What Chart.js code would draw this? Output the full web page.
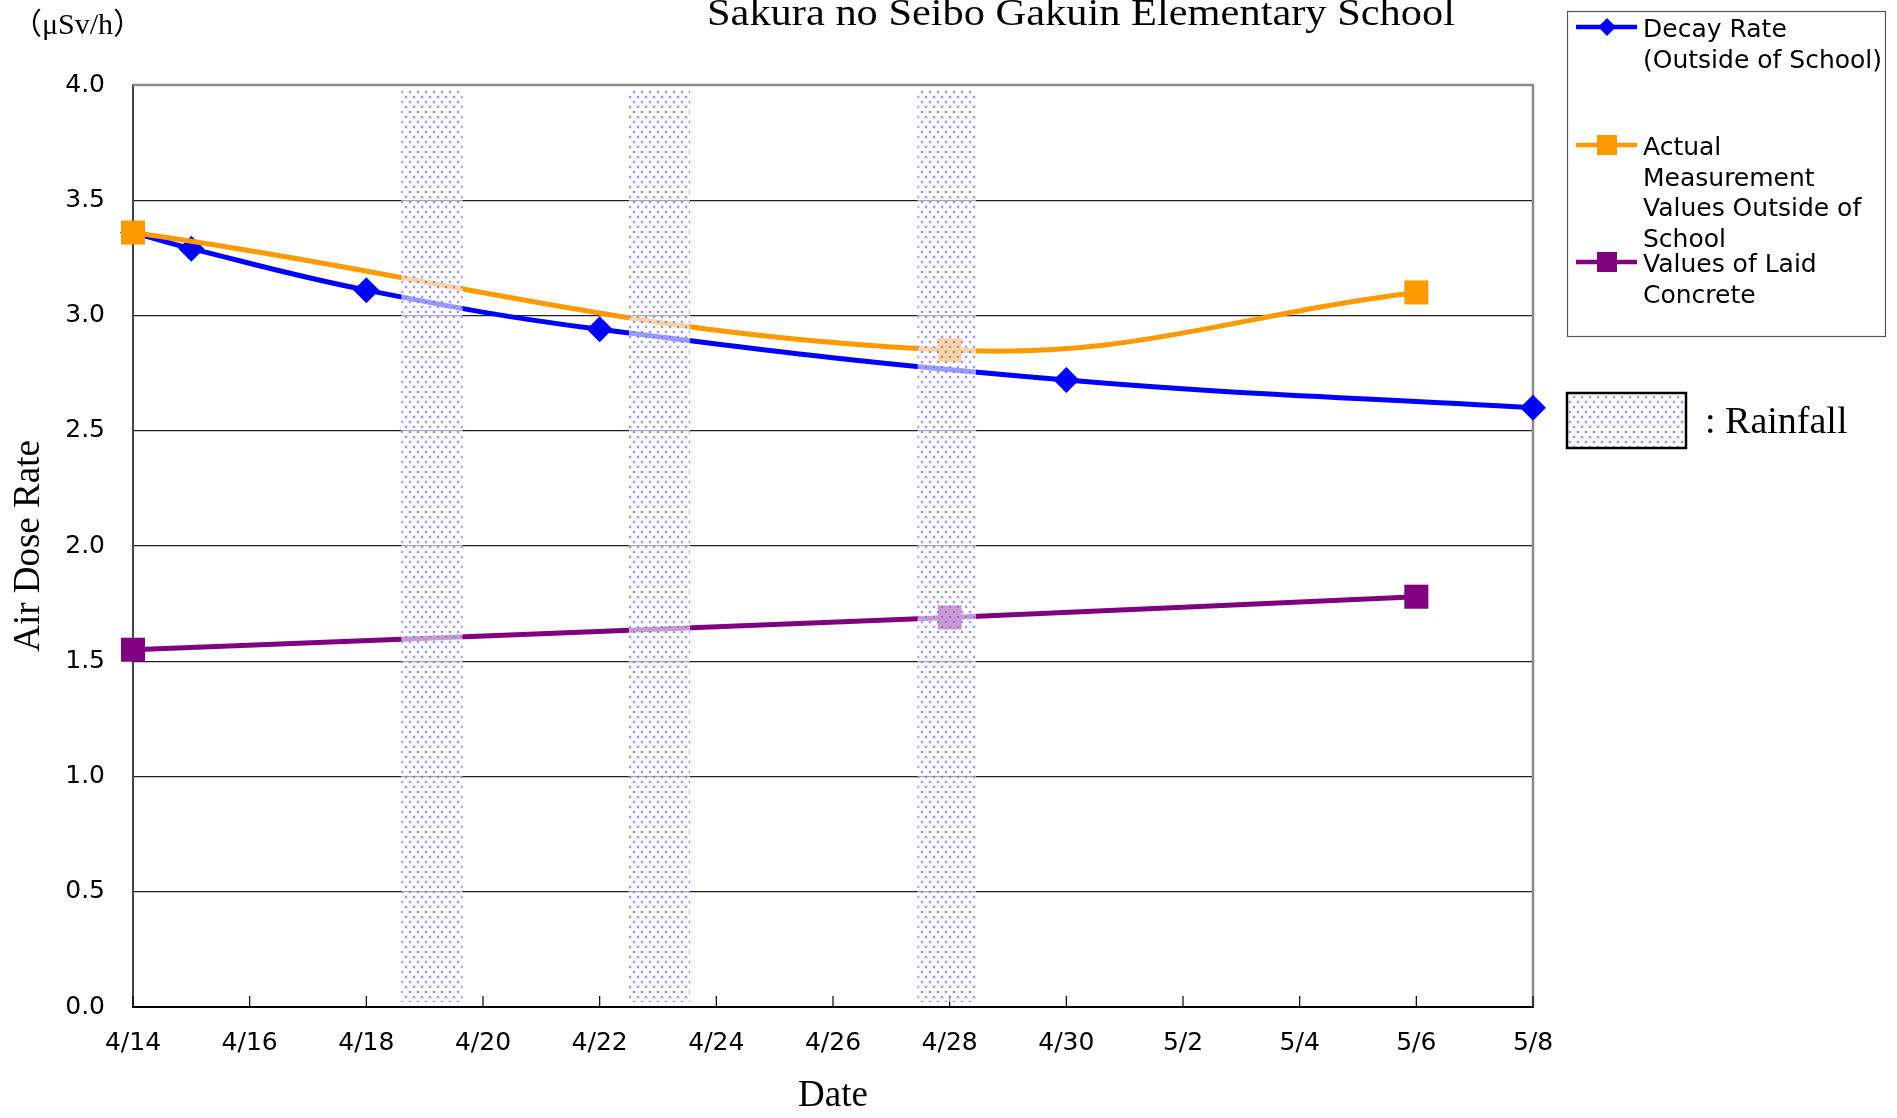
<!DOCTYPE html>
<html>
<head>
<meta charset="utf-8">
<script src="https://cdn.jsdelivr.net/npm/chart.js@4.4.1/dist/chart.umd.min.js"></script>
<style>
  html, body { margin: 0; padding: 0; background: #fff; }
  #wrap { width: 1897px; height: 1118px; }
</style>
</head>
<body>
<div id="wrap"><canvas id="chart" width="1897" height="1118"></canvas></div>
<script>
// dates are month/day (2011)
const decayDates = ['4/14', '4/15', '4/18', '4/22', '4/30', '5/8'];
const decayValues = [3.36, 3.29, 3.11, 2.94, 2.72, 2.60];
const actualDates = ['4/14', '4/28', '5/6'];
const actualValues = [3.36, 2.85, 3.10];
const concreteDates = ['4/14', '4/28', '5/6'];
const concreteValues = [1.55, 1.69, 1.78];
const tickLabels = ['4/14', '4/16', '4/18', '4/20', '4/22', '4/24', '4/26', '4/28', '4/30', '5/2', '5/4', '5/6', '5/8'];
// rainfall periods, days counted from 4/14
const rainFrom = [4.6, 8.5, 13.45];
const rainTo = [5.65, 9.55, 14.45];

const legendLines = [
    ['Decay Rate', '(Outside of School)'],
    ['Actual', 'Measurement', 'Values Outside of', 'School'],
    ['Values of Laid', 'Concrete'],
];
const titleText = 'Sakura no Seibo Gakuin Elementary School';

function dayIndex(s) {
    const [m, d] = s.split('/').map(Number);
    return Math.round((Date.UTC(2011, m - 1, d) - Date.UTC(2011, 3, 14)) / 86400000);
}
function toPoints(dates, values) {
    return dates.map((d, i) => ({ x: dayIndex(d), y: values[i] }));
}

let rainPattern = null;
function getRainPattern(ctx) {
    if (rainPattern) return rainPattern;
    const c = document.createElement('canvas');
    c.width = 8;
    c.height = 10;
    const p = c.getContext('2d');
    p.fillStyle = 'rgba(255,255,255,0.6)';
    p.fillRect(0, 0, 8, 10);
    p.fillStyle = 'rgba(170,170,255,0.2)';
    p.fillRect(0, 0, 4, 4);
    p.fillRect(4, 5, 4, 4);
    p.fillStyle = 'rgba(90,90,255,0.6)';
    p.fillRect(1, 1, 2, 2);
    p.fillRect(5, 6, 2, 2);
    rainPattern = ctx.createPattern(c, 'repeat');
    return rainPattern;
}

const decorations = {
    id: 'decorations',
    beforeDatasetsDraw(chart) {
        const { ctx, chartArea: a, scales: { x } } = chart;
        ctx.save();
        // gray top and right frame
        ctx.strokeStyle = '#8c8c8c';
        ctx.lineWidth = 2.5;
        ctx.beginPath();
        ctx.moveTo(a.left, a.top);
        ctx.lineTo(a.right, a.top);
        ctx.lineTo(a.right, a.bottom);
        ctx.stroke();
        // inward tick marks on the date axis
        ctx.strokeStyle = '#000';
        ctx.lineWidth = 1.2;
        x.ticks.forEach(t => {
            const px = x.getPixelForValue(t.value);
            ctx.beginPath();
            ctx.moveTo(px, a.bottom);
            ctx.lineTo(px, a.bottom - 11);
            ctx.stroke();
        });
        ctx.restore();
    },
    afterDatasetsDraw(chart) {
        const { ctx, chartArea: a, scales: { x } } = chart;
        ctx.save();
        ctx.fillStyle = getRainPattern(ctx);
        rainFrom.forEach((f, i) => {
            const x0 = x.getPixelForValue(f);
            const x1 = x.getPixelForValue(rainTo[i]);
            ctx.fillRect(x0, a.top + 4, x1 - x0, a.bottom - a.top - 9);
        });
        ctx.restore();
    },
    afterDraw(chart) {
        const { ctx } = chart;
        ctx.save();
        ctx.fillStyle = '#000';
        // title, partly cut at the top edge
        ctx.font = '38px "Liberation Serif"';
        const tw = ctx.measureText(titleText).width;
        ctx.save();
        ctx.translate(1081, 25);
        ctx.scale(748 / tw, 1);
        ctx.textAlign = 'center';
        ctx.textBaseline = 'alphabetic';
        ctx.fillText(titleText, 0, 0);
        ctx.restore();

        // unit
        ctx.font = '30px "Liberation Serif", "Noto Sans CJK JP"';
        ctx.textAlign = 'left';
        ctx.fillText('（μSv/h）', 12, 34);

        // legend box
        ctx.strokeStyle = '#555';
        ctx.lineWidth = 1.2;
        ctx.strokeRect(1567.5, 11.5, 318, 325);
        const rowY = [27, 145, 262];
        chart.data.datasets.forEach((ds, i) => {
            const y = rowY[i];
            ctx.strokeStyle = ds.borderColor;
            ctx.lineWidth = 4.5;
            ctx.beginPath();
            ctx.moveTo(1576, y);
            ctx.lineTo(1637, y);
            ctx.stroke();
            ctx.fillStyle = ds.borderColor;
            if (ds.pointStyle === 'rectRot') {
                ctx.beginPath();
                ctx.moveTo(1607, y - 9);
                ctx.lineTo(1616, y);
                ctx.lineTo(1607, y + 9);
                ctx.lineTo(1598, y);
                ctx.closePath();
                ctx.fill();
            } else {
                ctx.fillRect(1597, y - 10, 20, 20);
            }
            ctx.fillStyle = '#000';
            ctx.font = '25px "DejaVu Sans"';
            legendLines[i].forEach((t, j) => ctx.fillText(t, 1643, y + 10 + j * 30.5));
        });

        // rainfall key
        ctx.fillStyle = '#fff';
        ctx.fillRect(1567, 393, 119, 55);
        ctx.fillStyle = getRainPattern(ctx);
        ctx.fillRect(1567, 393, 119, 55);
        ctx.strokeStyle = '#000';
        ctx.lineWidth = 2.5;
        ctx.strokeRect(1567, 393, 119, 55);
        ctx.fillStyle = '#000';
        ctx.font = '38px "Liberation Serif"';
        ctx.fillText(': Rainfall', 1705, 433);
        ctx.restore();
    },
};

const tickFont = { family: '"DejaVu Sans"', size: 25 };
const titleFont = { family: '"Liberation Serif"', size: 37 };

const ctx = document.getElementById('chart').getContext('2d');
const chart = new Chart(ctx, {
    type: 'line',
    data: {
        datasets: [
            {
                label: 'Decay Rate (Outside of School)',
                data: toPoints(decayDates, decayValues),
                borderColor: '#0000ff',
                backgroundColor: '#0000ff',
                borderWidth: 5,
                pointStyle: 'rectRot',
                pointRadius: 13,
                pointBorderWidth: 0,
                tension: 0.4,
                order: 2,
            },
            {
                label: 'Actual Measurement Values Outside of School',
                data: toPoints(actualDates, actualValues),
                borderColor: '#ff9900',
                backgroundColor: '#ff9900',
                borderWidth: 5,
                pointStyle: 'rect',
                pointRadius: 17,
                pointBorderWidth: 0,
                tension: 0.4,
                order: 1,
            },
            {
                label: 'Values of Laid Concrete',
                data: toPoints(concreteDates, concreteValues),
                borderColor: '#800080',
                backgroundColor: '#800080',
                borderWidth: 5,
                pointStyle: 'rect',
                pointRadius: 17,
                pointBorderWidth: 0,
                tension: 0.4,
                order: 0,
            },
        ],
    },
    options: {
        responsive: false,
        animation: false,
        clip: false,
        layout: { padding: { top: 85, right: 364, left: 0, bottom: 0 } },
        scales: {
            x: {
                type: 'linear',
                min: 0,
                max: 24,
                afterFit: s => { s.height = 111; },
                ticks: {
                    stepSize: 2,
                    color: '#000',
                    font: tickFont,
                    padding: 21,
                    maxRotation: 0,
                    autoSkip: false,
                    callback: (v, i) => tickLabels[i],
                },
                grid: { drawOnChartArea: false, drawTicks: false },
                border: { color: '#000', width: 2 },
                title: {
                    display: true,
                    text: 'Date',
                    color: '#000',
                    font: titleFont,
                    padding: { top: 0, bottom: 0 },
                },
            },
            y: {
                min: 0,
                max: 4,
                afterFit: s => { s.width = 133; },
                ticks: {
                    stepSize: 0.5,
                    color: '#000',
                    font: tickFont,
                    padding: 28,
                    callback: v => v.toFixed(1),
                },
                grid: { color: '#222', lineWidth: 1.3, drawTicks: false },
                border: { color: '#444', width: 2 },
                title: {
                    display: true,
                    text: 'Air Dose Rate',
                    color: '#000',
                    font: titleFont,
                    padding: { top: 7, bottom: 0 },
                },
            },
        },
        plugins: {
            legend: { display: false },
            tooltip: { enabled: false },
        },
    },
    plugins: [decorations],
});
</script>
</body>
</html>
